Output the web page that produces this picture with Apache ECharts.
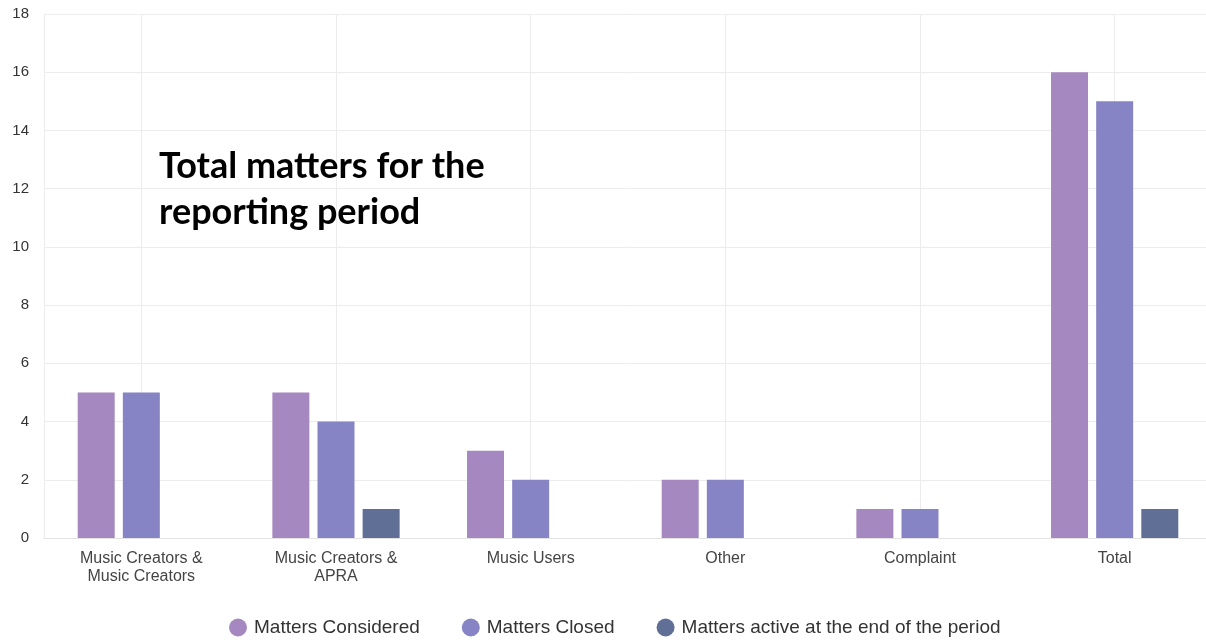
<!DOCTYPE html>
<html>
<head>
<meta charset="utf-8">
<script src="https://cdn.jsdelivr.net/npm/echarts@6/dist/echarts.min.js"></script>
<style>
  html, body { margin: 0; padding: 0; background: #fff; }
  #chartBox { width: 1206px; height: 640px; }
</style>
</head>
<body>
<div id="chartBox"></div>
<script>
// 各类事项数量
const categories = ['Music Creators &\nMusic Creators', 'Music Creators &\nAPRA', 'Music Users', 'Other', 'Complaint', 'Total']
const consideredData = [5, 5, 3, 2, 1, 16]
const closedData = [5, 4, 2, 2, 1, 15]
const activeData = [0, 1, 0, 0, 0, 1]
const seriesNames = ['Matters Considered', 'Matters Closed', 'Matters active at the end of the period']
const colors = ['#a688c1', '#8684c4', '#5f6f95']

const chart = echarts.init(document.getElementById('chartBox'))
const axisFont = 'Liberation Sans, Helvetica, Arial, sans-serif'

chart.setOption({
  color: colors,
  animation: false,
  title: {
    text: 'Total matters for the\nreporting period',
    left: 154,
    top: 138,
    textStyle: {
      fontFamily: 'Lato, sans-serif',
      fontWeight: 'bold',
      fontSize: 36,
      lineHeight: 46,
      color: '#000'
    }
  },
  legend: {
    top: 613,
    left: 224,
    icon: 'circle',
    itemWidth: 18,
    itemHeight: 18,
    itemGap: 42,
    data: seriesNames,
    textStyle: { fontFamily: axisFont, fontSize: 19, color: '#333', padding: [0, 0, 0, 2] }
  },
  // 右边超出画布一点，和原图一致
  grid: { left: 44, width: 1168, top: 14, bottom: 102, containLabel: false, outerBoundsMode: 'none' },
  xAxis: {
    type: 'category',
    data: categories,
    axisTick: { show: false, alignWithLabel: true },
    axisLine: { show: true, lineStyle: { color: '#e3e3e3' } },
    splitLine: { show: true, alignWithLabel: true, lineStyle: { color: '#ececec' } },
    axisLabel: {
      margin: 12,
      fontFamily: axisFont,
      fontSize: 16,
      lineHeight: 18,
      color: '#444'
    }
  },
  yAxis: {
    type: 'value',
    min: 0,
    max: 18,
    interval: 2,
    axisLine: { show: true, lineStyle: { color: '#ececec' } },
    splitLine: { lineStyle: { color: '#ececec' } },
    axisLabel: { margin: 15, fontFamily: axisFont, fontSize: 15, color: '#333' }
  },
  series: [
    { name: seriesNames[0], type: 'bar', data: consideredData, barWidth: 37, barGap: '22%' },
    { name: seriesNames[1], type: 'bar', data: closedData, barWidth: 37, barGap: '22%' },
    { name: seriesNames[2], type: 'bar', data: activeData, barWidth: 37, barGap: '22%' }
  ]
})
window.addEventListener('resize', () => { chart.resize() })
</script>
</body>
</html>
